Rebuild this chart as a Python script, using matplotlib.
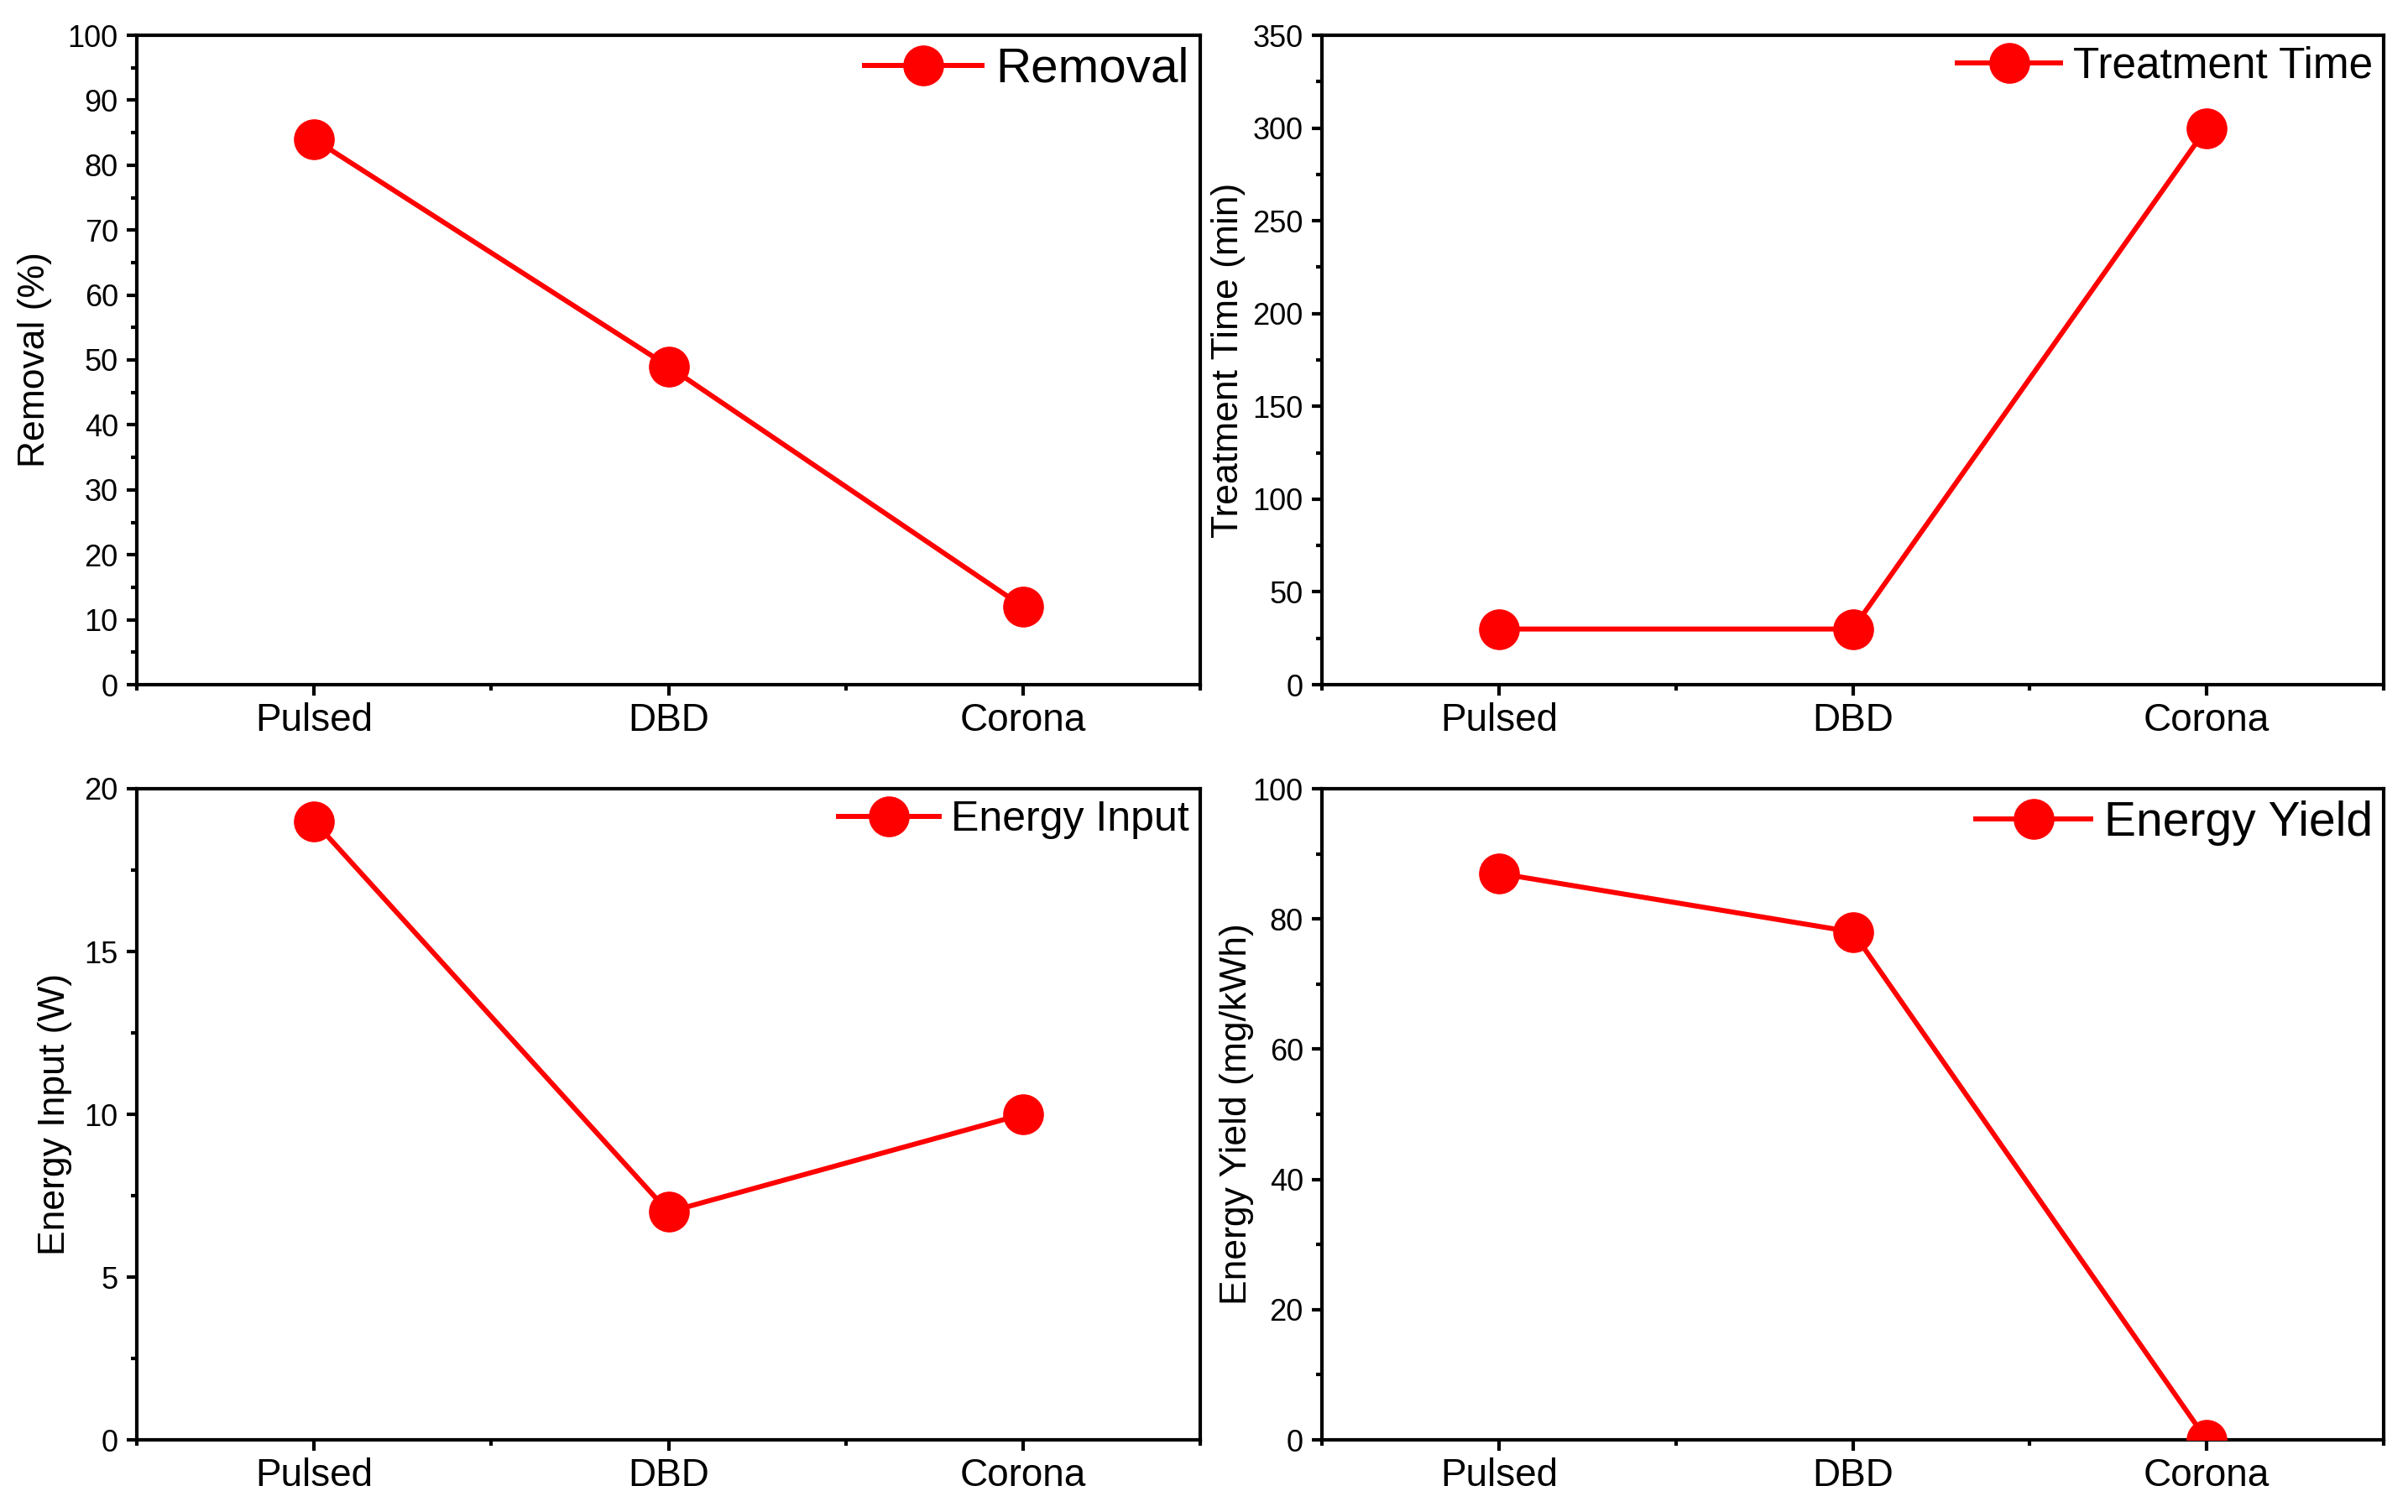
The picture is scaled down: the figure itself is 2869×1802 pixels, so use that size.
import matplotlib
matplotlib.use("Agg")
import matplotlib.pyplot as plt
from matplotlib.ticker import MultipleLocator, FixedLocator

plt.rcParams['font.family'] = ['Liberation Sans', 'DejaVu Sans']

categories = ["Pulsed", "DBD", "Corona"]
removal = [84, 49, 12]
treatment_time = [30, 30, 300]
energy_input = [19, 7, 10]
energy_yield = [87, 78, 0]

W, H = 2869, 1802
fig = plt.figure(figsize=(W / 100, H / 100), dpi=100)

# axes rectangles in pixels: (left, top, right, bottom)
rects_px = [
    (163, 42, 1430, 816),
    (1575, 42, 2840, 816),
    (163, 940, 1430, 1716),
    (1575, 940, 2840, 1716),
]

panels = [
    dict(data=removal, label="Removal", ylabel="Removal (%)", ylim=(0, 100), major=10, minor=5,
         leg_fs=42, leg_dy=41, ylab_off=121),
    dict(data=treatment_time, label="Treatment Time", ylabel="Treatment Time (min)", ylim=(0, 350),
         major=50, minor=25, leg_fs=37, leg_dy=37, ylab_off=112),
    dict(data=energy_input, label="Energy Input", ylabel="Energy Input (W)", ylim=(0, 20),
         major=5, minor=2.5, leg_fs=36, leg_dy=37, ylab_off=97),
    dict(data=energy_yield, label="Energy Yield", ylabel="Energy Yield (mg/kWh)", ylim=(0, 100),
         major=20, minor=10, leg_fs=41, leg_dy=41, ylab_off=102),
]

red = "#ff0000"
x = list(range(len(categories)))

for (l, t, r, b), p in zip(rects_px, panels):
    ax = fig.add_axes([l / W, 1 - b / H, (r - l) / W, (b - t) / H])
    ax.plot(x, p["data"], color=red, lw=4.3, marker="o", markersize=34,
            markerfacecolor=red, markeredgecolor=red, label=p["label"], zorder=3)
    ax.set_xlim(-0.5, 2.5)
    ax.set_ylim(*p["ylim"])
    ax.set_xticks(x)
    ax.set_xticklabels(categories)
    ax.xaxis.set_minor_locator(FixedLocator([-0.5, 0.5, 1.5, 2.5]))
    ax.yaxis.set_major_locator(MultipleLocator(p["major"]))
    ax.yaxis.set_minor_locator(MultipleLocator(p["minor"]))
    for s in ax.spines.values():
        s.set_linewidth(3.0)
    ax.tick_params(axis="both", which="both", direction="out", top=False, right=False, width=3.0)
    ax.tick_params(axis="both", which="major", length=9)
    ax.tick_params(axis="both", which="minor", length=5)
    ax.tick_params(axis="y", which="major", labelsize=26, pad=7)
    ax.tick_params(axis="x", which="major", labelsize=33, pad=6)
    ax.set_ylabel(p["ylabel"], fontsize=32)
    ax.yaxis.label.set_va("center")
    ax.yaxis.set_label_coords(-p["ylab_off"] / (r - l), 0.5)
    leg = ax.legend(loc="center right",
                    bbox_to_anchor=(1 - 13 / (r - l), 1 - p["leg_dy"] / (b - t)),
                    frameon=False, fontsize=p["leg_fs"], handlelength=2.4,
                    handletextpad=0.28, borderpad=0, borderaxespad=0, numpoints=1)

fig.savefig("out.png", dpi=100)
